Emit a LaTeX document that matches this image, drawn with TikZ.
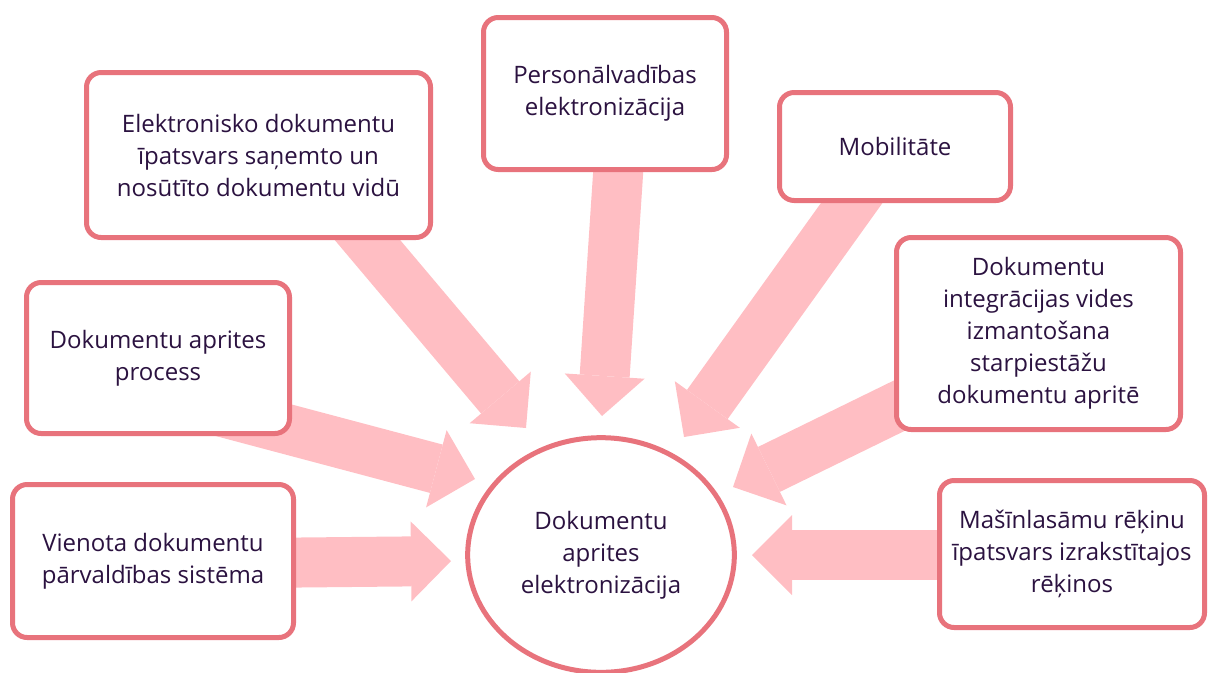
\documentclass[tikz,border=0pt]{standalone}
\usepackage{fontspec}
\setmainfont{Open Sans}
\usetikzlibrary{arrows.meta, shapes.geometric, backgrounds}
\definecolor{cedge}{HTML}{E8737C}
\definecolor{cflow}{HTML}{FFBEC3}
\definecolor{ctext}{HTML}{2B1240}
\tikzset{
  every picture/.style={font=\fontsize{18}{24}\selectfont, text=ctext},
  card/.style={draw=cedge, fill=white, line width=3.75pt, rounded corners=11pt, align=center, inner sep=4pt},
  hub/.style={ellipse, draw=cedge, fill=white, line width=3.75pt, align=center, inner sep=0pt, minimum width=200pt, minimum height=176pt},
  bigarrow/.style={draw=cflow, line width=37.5pt, -{Triangle[length=30pt, width=60pt, line width=0pt]}},
}

\begin{document}
\begin{tikzpicture}[x=0.75pt, y=-0.75pt]
  \useasboundingbox (0,0) rectangle (1209,672);
  \node[hub] (hub) at (601,555) {Dokumentu\\aprites\\elektronizācija};
  \node[card, minimum width=258pt, minimum height=123.75pt] (elshare) at (258.5,155) {Elektronisko dokumentu\\īpatsvars saņemto un\\nosūtīto dokumentu vidū};
  \node[card, minimum width=182.25pt, minimum height=114pt] (staff) at (605,93.5) {Personālvadības\\elektronizācija};
  \node[card, minimum width=173.25pt, minimum height=81pt] (mobile) at (895,146.5) {Mobilitāte};
  \node[card, minimum width=213pt, minimum height=144pt] (integr) at (1038.5,333.5) {Dokumentu\\integrācijas vides\\izmantošana\\starpiestāžu\\dokumentu apritē};
  \node[card, minimum width=198.75pt, minimum height=110.25pt] (invoice) at (1072,554) {Mašīnlasāmu rēķinu\\īpatsvars izrakstītajos\\rēķinos};
  \node[card, minimum width=210.75pt, minimum height=114.75pt] (system) at (153,561) {Vienota dokumentu\\pārvaldības sistēma};
  \node[card, minimum width=197.25pt, minimum height=113.25pt] (process) at (158,358) {Dokumentu aprites\\process};
  % arrow tips next to the hub
  \coordinate (tipel) at (526,428);
  \coordinate (tipst) at (602,416);
  \coordinate (tipmo) at (684,437);
  \coordinate (tipin) at (733,487);
  \coordinate (tipiv) at (752,555);
  \coordinate (tipsy) at (451,561);
  \coordinate (tippr) at (475,479);
  \begin{scope}[on background layer]
    \draw[bigarrow] ([shift={(76,46)}]elshare.center) -- (tipel);
    \draw[bigarrow] ([shift={(16,36)}]staff.center) -- (tipst);
    \draw[bigarrow] ([shift={(-20,24)}]mobile.center) -- (tipmo);
    \draw[bigarrow] ([shift={(-98,52)}]integr.center) -- (tipin);
    \draw[bigarrow] ([shift={(-92,1)}]invoice.center) -- (tipiv);
    \draw[bigarrow] ([shift={(97,2)}]system.center) -- (tipsy);
    \draw[bigarrow] ([shift={(27,44)}]process.center) -- (tippr);
  \end{scope}
\end{tikzpicture}
\end{document}
